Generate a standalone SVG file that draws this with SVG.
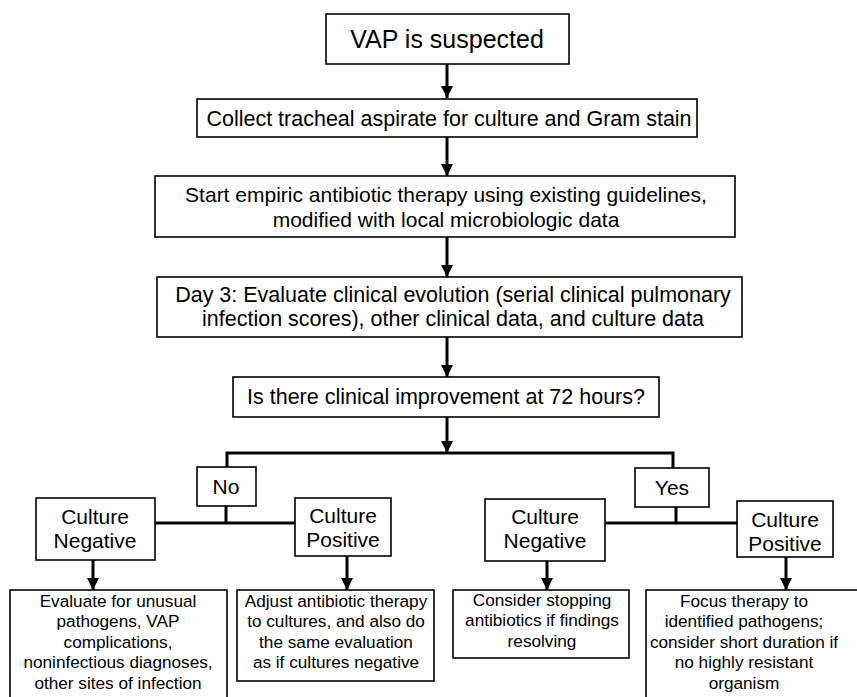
<svg xmlns="http://www.w3.org/2000/svg" width="857" height="697" viewBox="0 0 857 697">
<defs>
<marker id="ah" viewBox="0 0 10 10" refX="10" refY="5" markerWidth="4" markerHeight="4.2" markerUnits="strokeWidth" orient="auto">
<path d="M0,0 L10,5 L0,10 Z" fill="#000"/>
</marker>
<style>
rect{fill:#fff;stroke:#000;stroke-width:1.6}
text{font-family:"Liberation Sans",Arial,sans-serif;fill:#000;text-anchor:middle}
.c{stroke:#000;stroke-width:3;fill:none}
.a{marker-end:url(#ah)}
.t1{font-size:25px}
.t2{font-size:21.5px}
.t3{font-size:21px}
.t4{font-size:17.2px}
</style>
</defs>
<rect x="0" y="0" width="857" height="697" style="fill:#fff;stroke:none"/>
<g id="connectors">
<line class="c a" x1="447" y1="64" x2="447" y2="98"/>
<line class="c a" x1="447" y1="137" x2="447" y2="176"/>
<line class="c a" x1="447" y1="237" x2="447" y2="277"/>
<line class="c a" x1="447" y1="337" x2="447" y2="377"/>
<line class="c a" x1="447" y1="417" x2="447" y2="453"/>
<polyline class="c" points="227,467 227,453 673,453 673,468"/>
<line class="c" x1="226" y1="506" x2="226" y2="523"/>
<line class="c" x1="155" y1="523" x2="295" y2="523"/>
<line class="c" x1="676" y1="507" x2="676" y2="523"/>
<line class="c" x1="605" y1="523" x2="737" y2="523"/>
<line class="c a" x1="93" y1="560" x2="93" y2="590"/>
<line class="c a" x1="347" y1="556" x2="347" y2="590"/>
<line class="c a" x1="547" y1="561" x2="547" y2="590"/>
<line class="c a" x1="786" y1="557" x2="786" y2="590"/>
</g>
<g id="n1"><rect x="326" y="14" width="243" height="50"/><text class="t1" x="447" y="48">VAP is suspected</text></g>
<g id="n2"><rect x="197" y="99" width="500" height="38"/><text class="t2" x="449" y="126">Collect tracheal aspirate for culture and Gram stain</text></g>
<g id="n3"><rect x="155" y="176" width="580" height="61"/><text class="t3" x="446" y="202">Start empiric antibiotic therapy using existing guidelines,</text><text class="t3" x="446" y="227">modified with local microbiologic data</text></g>
<g id="n4"><rect x="157" y="277" width="585" height="60"/><text class="t2" x="453" y="302">Day 3: Evaluate clinical evolution (serial clinical pulmonary</text><text class="t2" x="453" y="326">infection scores), other clinical data, and culture data</text></g>
<g id="n5"><rect x="233" y="377" width="426" height="40"/><text class="t2" x="446" y="404">Is there clinical improvement at 72 hours?</text></g>
<g id="no"><rect x="197" y="467" width="59" height="39"/><text class="t3" x="226" y="494">No</text></g>
<g id="yes"><rect x="635" y="468" width="74" height="39"/><text class="t3" x="672" y="495">Yes</text></g>
<g id="cn1"><rect x="36" y="498" width="119" height="62"/><text class="t3" x="95" y="524">Culture</text><text class="t3" x="95" y="548">Negative</text></g>
<g id="cp1"><rect x="295" y="498" width="96" height="58"/><text class="t3" x="343" y="523">Culture</text><text class="t3" x="343" y="547">Positive</text></g>
<g id="cn2"><rect x="485" y="499" width="120" height="62"/><text class="t3" x="545" y="524">Culture</text><text class="t3" x="545" y="548">Negative</text></g>
<g id="cp2"><rect x="737" y="501" width="96" height="56"/><text class="t3" x="785" y="527">Culture</text><text class="t3" x="785" y="551">Positive</text></g>
<g id="r1"><rect x="10" y="590" width="217" height="120"/>
<text class="t4" x="118" y="607">Evaluate for unusual</text>
<text class="t4" x="118" y="627">pathogens, VAP</text>
<text class="t4" x="118" y="647.5">complications,</text>
<text class="t4" x="118" y="668">noninfectious diagnoses,</text>
<text class="t4" x="118" y="688.5">other sites of infection</text></g>
<g id="r2"><rect x="237" y="590" width="197" height="91"/>
<text class="t4" x="336" y="607">Adjust antibiotic therapy</text>
<text class="t4" x="336" y="627">to cultures, and also do</text>
<text class="t4" x="336" y="647.5">the same evaluation</text>
<text class="t4" x="336" y="668">as if cultures negative</text></g>
<g id="r3"><rect x="453" y="590" width="176" height="68"/>
<text class="t4" x="542" y="606">Consider stopping</text>
<text class="t4" x="542" y="626">antibiotics if findings</text>
<text class="t4" x="542" y="646.5">resolving</text></g>
<g id="r4"><rect x="646" y="590" width="220" height="120"/>
<text class="t4" x="744" y="607">Focus therapy to</text>
<text class="t4" x="744" y="627">identified pathogens;</text>
<text class="t4" x="744" y="647.5">consider short duration if</text>
<text class="t4" x="744" y="668">no highly resistant</text>
<text class="t4" x="744" y="688.5">organism</text></g>
</svg>
